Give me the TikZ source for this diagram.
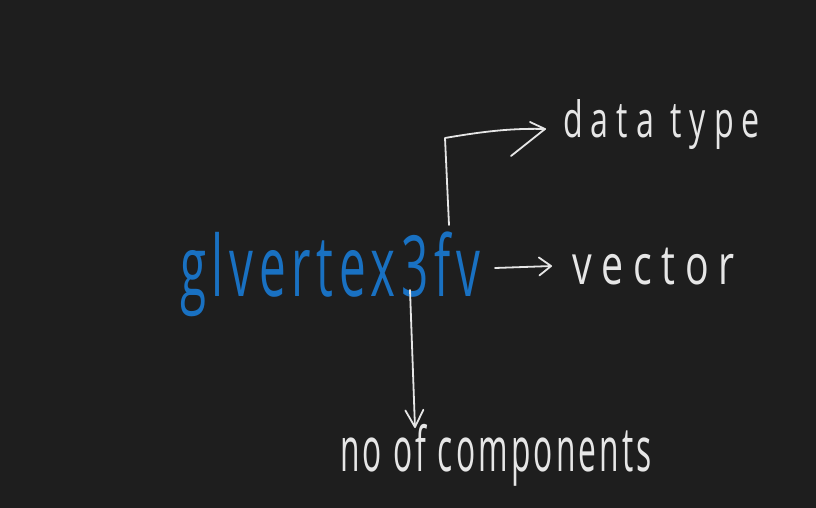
\documentclass[tikz,border=0pt]{standalone}
\usepackage{fontspec}
\setmainfont{Open Sans}
\usetikzlibrary{arrows.meta}
\definecolor{bg}{HTML}{1E1E1E}
\definecolor{inkblue}{HTML}{1971C2}
\definecolor{inkwhite}{HTML}{E6E6E6}
\tikzset{
  lbl/.style={inner sep=0pt, outer sep=0pt, text=inkwhite},
  stroke/.style={draw=inkwhite, line width=1.8pt, line cap=round, line join=round},
  barb/.style={-{Straight Barb[length=12pt,width=18pt,line width=1.8pt,round]}},
  downbarb/.style={-{Straight Barb[length=17pt,width=18pt,line width=1.8pt,round]}}
}
\begin{document}
\begin{tikzpicture}[x=1pt,y=-1pt]
  \fill[bg] (0,0) rectangle (816,508);
  \useasboundingbox (0,0) rectangle (816,508);
  % texts
  \node[lbl, text=inkblue, anchor=north west] (main) at (180,232)
    {\resizebox*{300pt}{90pt}{\fontsize{60}{60}\selectfont\addfontfeatures{LetterSpace=12}\strut glvertex3fv}};
  \node[lbl, anchor=north west] (dtype) at (563,100)
    {\resizebox*{197pt}{50pt}{\fontsize{40}{40}\selectfont\addfontfeatures{LetterSpace=25}data type}};
  \node[lbl, anchor=north west] (vec) at (572,248)
    {\resizebox*{163pt}{37pt}{\fontsize{40}{40}\selectfont\addfontfeatures{LetterSpace=25}vector}};
  \node[lbl, anchor=north west] (comp) at (340,424)
    {\resizebox*{312pt}{62pt}{\fontsize{40}{40}\selectfont\addfontfeatures{LetterSpace=10}no of components}};
  % connector points
  \coordinate (fstart) at (449,225);
  \coordinate (corner) at (445,138);
  \coordinate (dtip) at (545,129);
  \coordinate (dup) at (530,122);
  \coordinate (dlow) at (511,156);
  \coordinate (vstart) at (495,268);
  \coordinate (vtip) at (552,266);
  \coordinate (cstart) at (410,290);
  \coordinate (ctip) at (415,428);
  % connectors
  \draw[stroke] (fstart) -- (corner) .. controls (480,132) and (510,128) .. (dtip);
  \draw[stroke] (dup) -- (dtip) -- (dlow);
  \draw[stroke, barb] (vstart) -- (vtip);
  \draw[stroke, downbarb] (cstart) -- (ctip);
\end{tikzpicture}
\end{document}
